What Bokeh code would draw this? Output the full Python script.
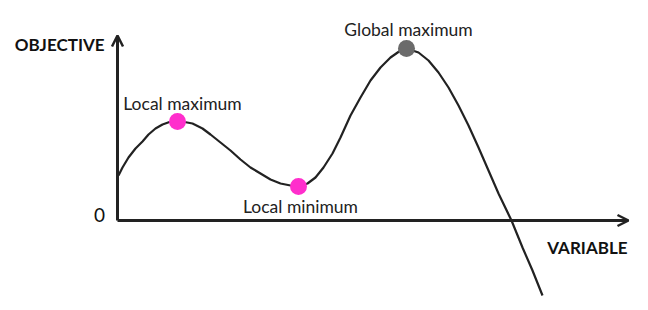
from bokeh.plotting import figure
from bokeh.models import Range1d, Arrow, OpenHead, ColumnDataSource
from bokeh.core.properties import value
from bokeh.embed import file_html
from bokeh.resources import INLINE

# curve (variable, objective)
curve_x = [1, 5, 11, 18, 25, 31, 38, 45, 52, 60, 67, 75, 85, 93, 103, 113, 123, 133, 143, 153, 163, 173, 181,
           190, 198, 206, 215, 223, 233, 243, 253, 263, 273, 283, 289, 301, 311, 321, 331, 341, 351, 361, 371,
           381, 394, 405, 415, 425]
curve_y = [45, 53, 63, 72, 79, 86, 92, 96, 98.5, 99, 98.5, 97, 92, 86, 78, 70, 61, 53, 47, 41, 37, 35, 34,
           37, 43, 53, 67, 83, 105, 123, 140, 153, 163, 170, 172, 168, 160, 148, 133, 115, 95, 73, 50,
           27, 0, -27, -50, -75]

# marked points
pt_labels = ["Local maximum", "Local minimum", "Global maximum"]
pt_x = [60, 181, 289]
pt_y = [99, 34, 172]
pt_colors = ["#ff2ecc", "#ff2ecc", "#6b6b6b"]
pt_xoff = [5, 2, 2]
pt_yoff = [-18, 20, -19]

x_label = "VARIABLE"
y_label = "OBJECTIVE"
origin_label = "0"

p = figure(width=648, height=310, output_backend="svg", toolbar_location=None,
           x_range=Range1d(-117, 531), y_range=Range1d(-90, 220), min_border=0)
p.axis.visible = False
p.grid.visible = False
p.outline_line_color = None
p.background_fill_color = "white"
p.border_fill_color = "white"

ink = "#222222"
p.add_layout(Arrow(end=OpenHead(size=11, line_width=2.5, line_color=ink), x_start=0, y_start=0,
                   x_end=511, y_end=0, line_width=3, line_color=ink))
p.add_layout(Arrow(end=OpenHead(size=11, line_width=2.5, line_color=ink), x_start=0, y_start=0,
                   x_end=0, y_end=185, line_width=3, line_color=ink))

p.line(curve_x, curve_y, line_width=2.2, line_color=ink, line_join="round")

src = ColumnDataSource(dict(x=pt_x, y=pt_y, c=pt_colors, t=pt_labels, xo=pt_xoff, yo=pt_yoff))
p.scatter("x", "y", source=src, size=17, fill_color="c", line_color=None)
p.text("x", "y", text="t", source=src, x_offset="xo", y_offset="yo", text_align="center",
       text_baseline="alphabetic", text_font=value("Lato"), text_font_size="17.5px",
       text_color=ink)

p.text([-13], [176], text=[y_label], text_align="right", text_baseline="middle",
       text_font=value("Lato"), text_font_style="bold", text_font_size="17px", text_color="#111111")
p.text([-18], [6], text=[origin_label], text_align="center", text_baseline="middle",
       text_font=value("Lato"), text_font_size="19px", text_color="#111111")
p.text([510], [-27], text=[x_label], text_align="right", text_baseline="middle",
       text_font=value("Lato"), text_font_style="bold", text_font_size="17px", text_color="#111111")

open("out.html", "w").write(file_html(p, INLINE))
